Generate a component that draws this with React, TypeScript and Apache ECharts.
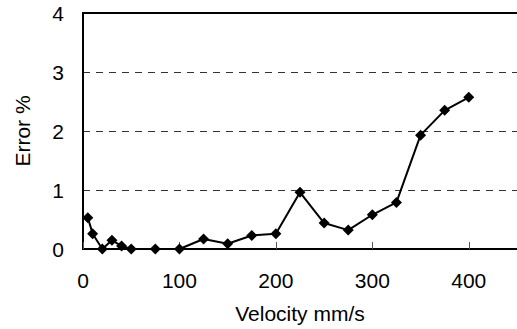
import React, { useEffect, useRef } from "react";
import * as echarts from "echarts";

const velocity = [5, 10, 20, 30, 40, 50, 75, 100, 125, 150, 175, 200, 225, 250, 275, 300, 325, 350, 375, 400];
const errorPct = [0.53, 0.26, 0.0, 0.15, 0.05, 0.0, 0.0, 0.0, 0.17, 0.09, 0.23, 0.26, 0.96, 0.44, 0.32, 0.58, 0.79, 1.93, 2.35, 2.57];
const xTitle = "Velocity mm/s";
const yTitle = "Error %";

const FONT = "Liberation Sans, Arial, sans-serif";
const FS = 21;

export default function App() {
  const ref = useRef<HTMLDivElement>(null);
  useEffect(() => {
    if (!ref.current) return;
    const chart = echarts.init(ref.current, null, { renderer: "svg" });
    const data = velocity.map((v, i) => [v, errorPct[i]]);
    chart.setOption({
      animation: false,
      backgroundColor: "#ffffff",
      grid: { left: 83, top: 13, width: 435, height: 236, containLabel: false },
      xAxis: [
        {
          type: "value",
          min: 0,
          max: 450,
          interval: 100,
          name: xTitle,
          nameLocation: "middle",
          nameGap: 54,
          nameTextStyle: { fontFamily: FONT, fontSize: FS, color: "#000" },
          axisLine: { show: true, onZero: false, lineStyle: { color: "#000", width: 2 } },
          axisTick: { show: true, inside: true, length: 7, lineStyle: { color: "#555", width: 1 } },
          axisLabel: {
            fontFamily: FONT,
            fontSize: FS,
            color: "#000",
            margin: 21,
            showMaxLabel: false,
            formatter: (v: number) => (v > 400 ? "" : String(v)),
          },
          splitLine: { show: false },
        },
        {
          type: "value",
          position: "top",
          min: 0,
          max: 450,
          axisLine: { show: true, onZero: false, lineStyle: { color: "#000", width: 2 } },
          axisTick: { show: false },
          axisLabel: { show: false },
          splitLine: { show: false },
        },
      ],
      yAxis: {
        type: "value",
        min: 0,
        max: 4,
        interval: 1,
        name: yTitle,
        nameLocation: "middle",
        nameGap: 50,
        nameTextStyle: { fontFamily: FONT, fontSize: FS, color: "#000" },
        axisLine: { show: true, onZero: false, lineStyle: { color: "#000", width: 2 } },
        axisTick: { show: false },
        axisLabel: { fontFamily: FONT, fontSize: FS, color: "#000", margin: 19 },
        splitLine: {
          show: true,
          lineStyle: { color: "#333", width: 1, type: [7, 6] },
        },
      },
      series: [
        {
          type: "line",
          data,
          xAxisIndex: 0,
          symbol: "diamond",
          symbolSize: 11,
          lineStyle: { color: "#000", width: 2 },
          itemStyle: { color: "#000" },
        },
      ],
    });
    return () => chart.dispose();
  }, []);
  return (
    <div
      ref={ref}
      style={{ position: "fixed", left: 0, top: 0, width: 517, height: 329, background: "#fff" }}
    />
  );
}
